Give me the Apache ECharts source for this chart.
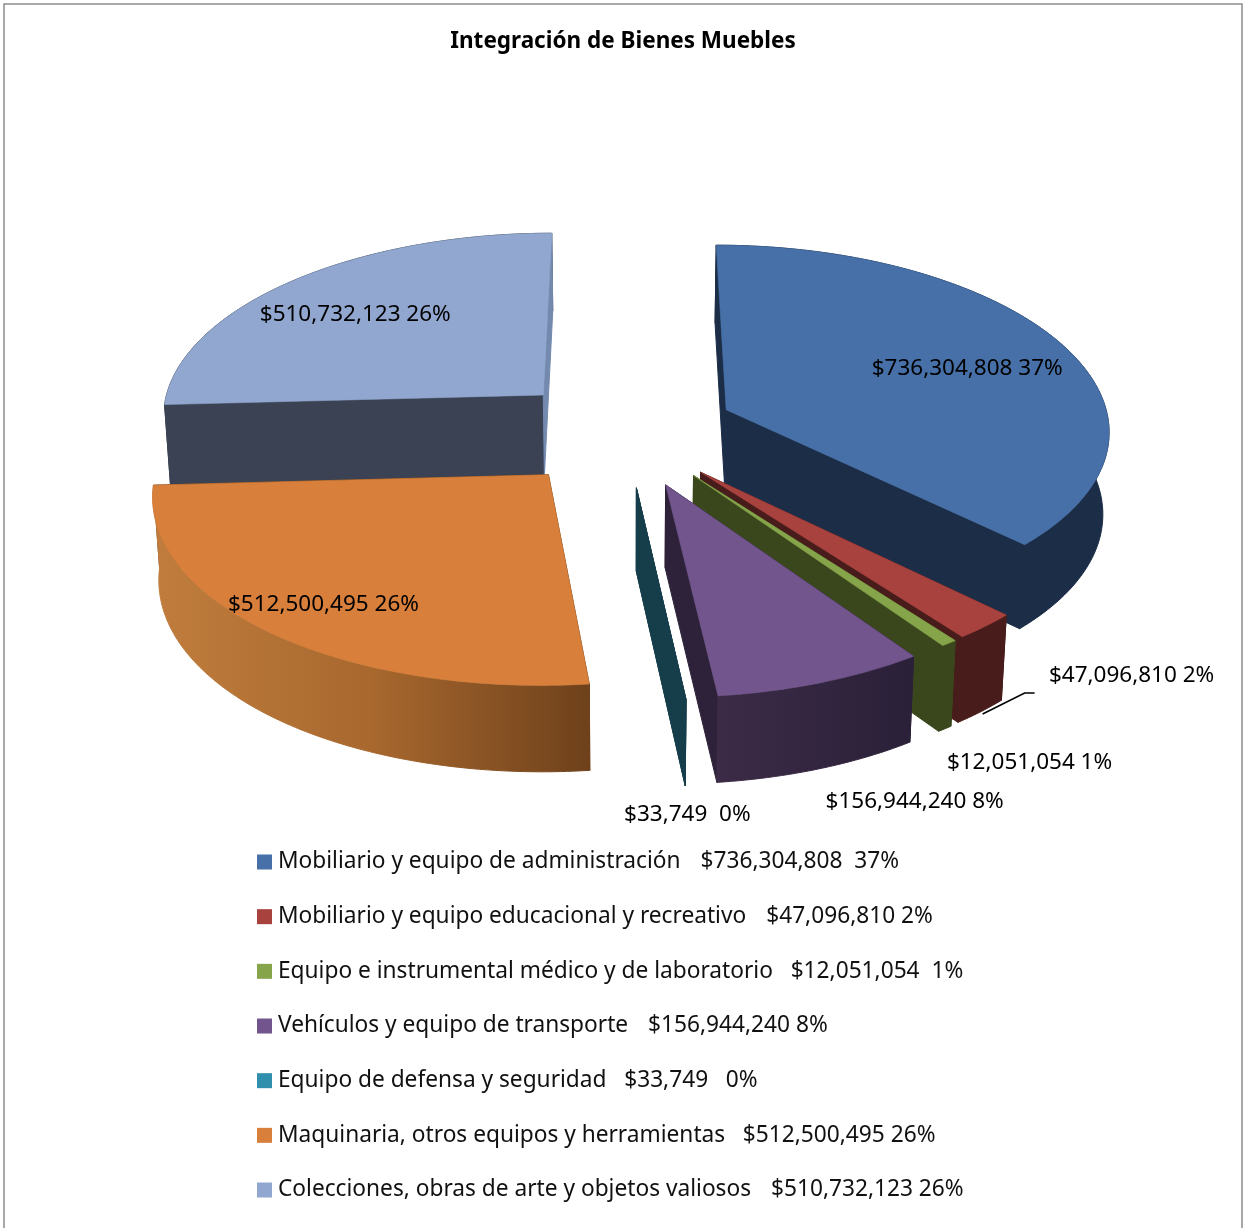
<!DOCTYPE html>
<html><head><meta charset="utf-8">
<style>html,body{margin:0;padding:0;background:#fff}#c{width:1243px;height:1228px}</style>
<script src="https://cdn.jsdelivr.net/npm/echarts@6/dist/echarts.min.js"></script>
</head><body><div id="c"></div>
<script>
const titleText = 'Integración de Bienes Muebles';
const categories = ['Mobiliario y equipo de administración','Mobiliario y equipo educacional y recreativo','Equipo e instrumental médico y de laboratorio','Vehículos y equipo de transporte','Equipo de defensa y seguridad','Maquinaria, otros equipos y herramientas','Colecciones, obras de arte y objetos valiosos'];
const values = [736304808,47096810,12051054,156944240,33749,512500495,510732123];
const legendNameGap = ['   \u200a','   \u200a','   ','   \u200a','   ','   ','   \u200a'];
const legendPctGap = ['  ',' ','  ',' ','   ',' ',' '];
const labelPctGap = [' ',' ',' ',' ','  ',' ',' '];
const topColors = ['#4670a7','#a8423f','#86a44a','#71558c','#2f8fad','#d77f3b','#91a7cf'];

const wallColors = ['#1b2d47','#481c1a','#3a471d',['#3c2b47','#2a2038'],'#153d4a',['#c07d3d','#a8682e','#6e411b'],'#3a4254'];
const startFaceColors = ['#1b2d47','#481c1a','#3a471d','#2d2239','#153d4a','#6e411b','#3a4254'];
const endFaceColors = ['#1b2d47','#481c1a','#3a471d','#2d2239','#153d4a','#6e411b','#7389ae'];
const explode = [110,113,114,118,118,120,114];
const explodeTurn = [0,1.5,1,2,2,0,-2.6];
const labelOffset = [[241,-41],[431,203],[336,287],[249,317],[51,327],[-225,130],[-188,-80]];
const drawOrder = [6,0,1,2,3,5,4];

const FONT = '"Noto Sans"';
const CX = 627, CY = 430, R = 388, RX_SCALE = 0.99, TILT = 0.478, PERSP = 4200, PERSP_X = 3900, DEPTH = 82, DEPTH_PERSP = 9000, SHRINK = 0.987;
const total = values.reduce((a,b)=>a+b,0);
const fmt = v => '$' + String(v).replace(/\B(?=(\d{3})+$)/g, ',');
const pct = v => Math.round(v/total*100) + '%';
let acc = 0;
const spans = values.map(v => { const s = acc/total*360; acc += v; return [s, acc/total*360]; });

function project(X, Y, low) {
  let x = CX + X*(1 + Y/PERSP_X), y = CY + TILT*Y*(1 + Y/PERSP);
  if (low) { x = CX + (x-CX)*SHRINK; y += DEPTH*(1 + Y/DEPTH_PERSP); }
  return [x, y];
}
function disc(a, r, ox, oy) {
  const t = a*Math.PI/180;
  return [ox + r*RX_SCALE*Math.sin(t), oy - r*Math.cos(t)];
}
function poly(points, fill, stroke, lw) {
  return {type:'polygon', shape:{points}, style:{fill, stroke: stroke||fill, lineWidth:lw||0.6}};
}
function sliceRender(i) {
  return function (params, api) {
    const a0 = api.value(1), a1 = api.value(2), mid = (a0+a1)/2;
    const [ox, oy] = disc(mid+explodeTurn[i], explode[i], 0, 0);
    const n = Math.max(2, Math.ceil((a1-a0)));
    const arc = [];
    for (let k=0;k<=n;k++) arc.push(disc(a0+(a1-a0)*k/n, R, ox, oy));
    const hi = arc.map(p=>project(p[0],p[1],false)), lo = arc.map(p=>project(p[0],p[1],true));
    const aHi = project(ox,oy,false), aLo = project(ox,oy,true);
    const wc = wallColors[i];
    const wall = Array.isArray(wc) ? {type:'linear',x:0,y:0,x2:1,y2:0,colorStops:wc.map((c,j)=>({offset:j/(wc.length-1),color:c}))} : wc;
    const startFace = poly([aHi,hi[0],lo[0],aLo], startFaceColors[i], null, 1);
    const endFace = poly([aHi,hi[n],lo[n],aLo], endFaceColors[i], null, 1);
    const rim = poly(hi.concat(lo.slice().reverse()), wall, wall, 1);
    const top = poly([aHi].concat(hi), topColors[i], i===4 ? startFaceColors[i] : topColors[i]);
    const kids = i===6 ? [startFace,rim,endFace,top] : [startFace,endFace,rim,top];
    kids.push({type:'text', z2:50, style:{
      text: fmt(values[i]) + labelPctGap[i] + pct(values[i]),
      x: aHi[0]+labelOffset[i][0], y: aHi[1]+labelOffset[i][1],
      align:'center', verticalAlign:'middle', fill:'#000', font:'22.5px '+FONT}});
    if (i===1) {
      kids.push({type:'polyline', z2:50, shape:{points:[[aLo[0]+283,aLo[1]+159],[aLo[0]+325,aLo[1]+138],[aLo[0]+335,aLo[1]+138]]},
        style:{stroke:'#000',lineWidth:1.6,fill:'none'}});
    }
    return {type:'group', children:kids};
  };
}
const series = drawOrder.map((i,pos)=>({
  type:'custom', name:categories[i], coordinateSystem:'none', z:2+pos, silent:true, animation:false,
  itemStyle:{color:topColors[i]},
  data:[[values[i], spans[i][0], spans[i][1]]],
  renderItem:sliceRender(i)
}));
const chart = echarts.init(document.getElementById('c'), null, {renderer:'canvas'});
chart.setOption({
  animation:false,
  backgroundColor:'#fff',
  title:{text:titleText,left:618,top:25,textAlign:'center',textStyle:{fontFamily:FONT,fontWeight:'bold',fontSize:22.5,color:'#000'}},
  legend:{
    data:categories, orient:'vertical', left:252, top:841, itemWidth:15, itemHeight:15, itemGap:22.67, icon:'rect',
    selectedMode:false,
    formatter:n=>{const i=categories.indexOf(n);return n+legendNameGap[i]+fmt(values[i])+legendPctGap[i]+pct(values[i]);},
    textStyle:{fontFamily:FONT,fontSize:22.7,color:'#111',lineHeight:32,padding:[0,0,0,1]}
  },
  graphic:[{type:'rect',silent:true,z:100,shape:{x:4,y:4,width:1238,height:1240},style:{fill:'none',stroke:'#8c8c8c',lineWidth:1.5}}],
  series
});
</script></body></html>
